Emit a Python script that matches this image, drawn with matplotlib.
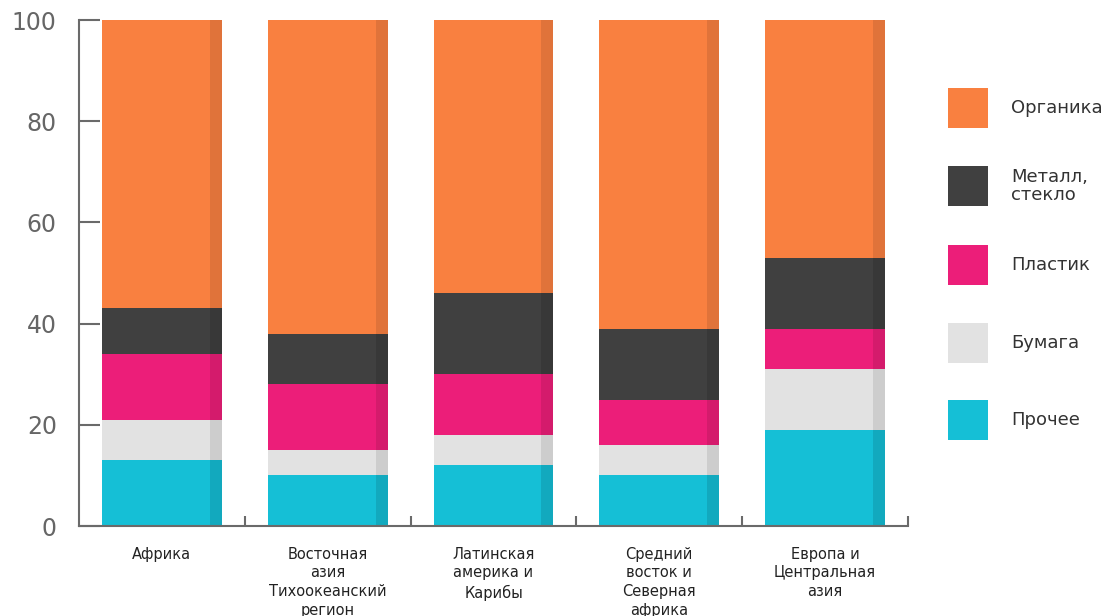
import numpy as np
import matplotlib.pyplot as plt
from matplotlib.patches import Rectangle

regions = ["Африка", "Восточная\nазия\nТихоокеанский\nрегион", "Латинская\nамерика и\nКарибы",
           "Средний\nвосток и\nСеверная\nафрика", "Европа и\nЦентральная\nазия"]

# stacked from the bottom up
series = ["Прочее", "Бумага", "Пластик", "Металл,\nстекло", "Органика"]
prochee = [13, 10, 12, 10, 19]
bumaga = [8, 5, 6, 6, 12]
plastik = [13, 13, 12, 9, 8]
metall = [9, 10, 16, 14, 14]
organika = [57, 62, 54, 61, 47]
values = [prochee, bumaga, plastik, metall, organika]

colors = ["#15bfd6", "#e2e2e2", "#ec1e79", "#404040", "#f98040"]
shade = ["#12a9be", "#cdcdcd", "#d41b6c", "#383838", "#e0733a"]

plt.rcParams['font.family'] = ['DejaVu Sans']

fig = plt.figure(figsize=(11.05, 6.16), dpi=100)
ax = fig.add_axes([79 / 1105, 1 - 526 / 616, (908 - 79) / 1105, 506 / 616])

x = np.arange(len(regions))
w = 120 / 166
sw = 12 / 166
bottom = np.zeros(len(regions))
for vals, c, sc in zip(values, colors, shade):
    ax.bar(x, vals, width=w, bottom=bottom, color=c, linewidth=0)
    ax.bar(x + w / 2 - sw, vals, width=sw, bottom=bottom, color=sc, align='edge', linewidth=0)
    bottom += np.array(vals)

ax.set_xlim(-0.5, len(regions) - 0.5)
ax.set_ylim(0, 100)
for s in ['top', 'right']:
    ax.spines[s].set_visible(False)
for s in ['left', 'bottom']:
    ax.spines[s].set_color('#6a6a6a')
    ax.spines[s].set_linewidth(1.5)

ax.set_yticks([0, 20, 40, 60, 80, 100])
ax.tick_params(axis='y', direction='in', length=15, width=1.5, color='#6a6a6a',
               labelsize=17, labelcolor='#666666', pad=16)

ax.set_xticks(x)
ax.set_xticklabels(regions, fontsize=10.5, color='#222222', va='top', linespacing=1.3)
ax.tick_params(axis='x', length=0, pad=15)
ax.set_xticks(np.append(x[1:] - 0.5, x[-1] + 0.5), minor=True)
ax.tick_params(axis='x', which='minor', direction='in', length=7, width=1.5, color='#6a6a6a')

# legend squares on the right
ys = [108, 186, 265, 343, 420]
for name, c, yc in zip(series[::-1], colors[::-1], ys):
    fig.patches.append(Rectangle((948 / 1105, 1 - (yc + 20) / 616), 40 / 1105, 40 / 616,
                                 transform=fig.transFigure, color=c, linewidth=0))
    fig.text(1011 / 1105, 1 - yc / 616, name, fontsize=13, color='#333333', va='center',
             ha='left', linespacing=1.0)

fig.savefig('out.png', dpi=100)
